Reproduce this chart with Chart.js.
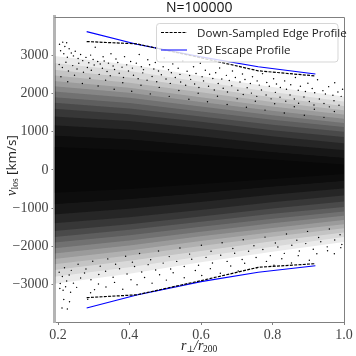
<!DOCTYPE html>
<html><head><meta charset="utf-8">
<style>html,body{margin:0;padding:0;background:#fff}canvas{display:block}</style>
<script src="https://cdn.jsdelivr.net/npm/chart.js@4/dist/chart.umd.min.js"></script>
</head><body><canvas id="c" width="356" height="356"></canvas>
<script>
const titleText = "N=100000";
const xTickValues = [0.2,0.4,0.6,0.8,1.0];
const yTickValues = [-3000,-2000,-1000,0,1000,2000,3000];
const profileR = [0.28,0.42,0.6,0.76,0.92];
const escapeUpper = [3620,3290,2960,2700,2510];
const escapeLower = [-3615,-3275,-2925,-2680,-2510];
const edgeUpper = [3360,3300,2934,2594,2460];
const edgeLower = [-3345,-3270,-2900,-2550,-2455];
const edgeLabel = "Down-Sampled Edge Profile";
const escapeLabel = "3D Escape Profile";
// estimated density contours of the point cloud, outermost first
const bandR = [0.19,0.4,0.6,0.8,1.0];
const contoursUpper = [
 [2980,2760,2460,2170,1920],[2800,2590,2310,2040,1790],[2620,2420,2160,1900,1670],[2470,2280,2030,1780,1560],
 [2330,2150,1900,1660,1450],[2190,2020,1780,1550,1340],[2050,1890,1660,1430,1230],[1900,1750,1530,1310,1120],
 [1760,1610,1400,1180,1000],[1600,1460,1260,1040,860],[1400,1280,1090,880,700],[1170,1060,880,680,520],
 [900,800,640,470,320],[600,520,400,270,140]];
const contoursLower = [
 [-2980,-2720,-2420,-2140,-1890],[-2800,-2550,-2270,-2010,-1760],[-2620,-2380,-2120,-1870,-1640],[-2470,-2240,-1990,-1750,-1530],
 [-2330,-2110,-1860,-1630,-1420],[-2190,-1980,-1740,-1520,-1310],[-2050,-1850,-1620,-1400,-1200],[-1900,-1710,-1490,-1280,-1090],
 [-1760,-1570,-1360,-1150,-970],[-1600,-1420,-1220,-1010,-830],[-1400,-1240,-1050,-850,-670],[-1170,-1020,-840,-650,-490],
 [-900,-770,-610,-440,-290],[-600,-500,-370,-240,-110]];
const contourAlpha = [.08,.08,.1,.1,.12,.14,.16,.18,.22,.26,.32,.4,.5,.6];
// individually read points [r, v]
const pointsUpper = [[.204,3290],[.207,3120],[.213,3345],[.216,3040],[.219,3230],[.224,3330],[.226,2950],[.231,3170],[.237,3060],[.243,2985],[.248,3105],[.256,2915],[.263,3020],[.269,2860],[.278,2945],[.286,2805],[.291,3005],[.298,2890],[.304,3210],[.311,2840],[.318,2770],[.326,2960],[.329,2850],[.341,2795],[.348,3040],[.354,2720],[.362,2905],[.367,2810],[.379,2690],[.386,2965],[.392,2750],[.403,2840],[.408,2665],[.419,2795],[.427,3020],[.433,2700],[.439,2625],[.451,2885],[.456,2755],[.468,2640],[.472,2810],[.481,2590],[.494,2700],[.497,2930],[.509,2620],[.517,2545],[.521,2775],[.536,2660],[.541,2500],[.549,2850],[.561,2585],[.568,2470],[.579,2700],[.586,2525],[.598,2790],[.603,2440],[.612,2610],[.624,2505],[.633,2395],[.641,2545],[.652,2670],[.658,2380],[.671,2475],[.679,2340],[.688,2590],[.696,2420],[.709,2300],[.716,2510],[.723,2365],[.738,2260],[.744,2440],[.757,2330],[.763,2220],[.772,2520],[.784,2290],[.791,2190],[.803,2385],[.811,2250],[.822,2155],[.834,2330],[.839,2110],[.851,2230],[.864,2420],[.872,2085],[.878,2190],[.892,2050],[.899,2270],[.911,2130],[.918,2020],[.926,2360],[.941,2075],[.948,1985],[.957,2180],[.969,1955],[.974,2280],[.983,2040],[.992,1925],[.996,2110],[.203,2760],[.212,2680],[.222,2820],[.229,2590],[.241,2730],[.253,2640],[.258,2790],[.271,2555],[.282,2680],[.293,2610],[.301,2745],[.315,2500],[.324,2660],[.337,2575],[.346,2465],[.358,2630],[.371,2530],[.383,2420],[.397,2590],[.411,2480],[.424,2385],[.437,2540],[.449,2350],[.463,2445],[.476,2310],[.489,2490],[.502,2380],[.514,2265],[.528,2420],[.543,2300],[.557,2215],[.571,2370],[.582,2250],[.594,2155],[.607,2330],[.621,2190],[.637,2090],[.648,2260],[.662,2135],[.674,2040],[.686,2205],[.703,2085],[.718,1975],[.729,2150],[.741,2010],[.756,1925],[.769,2090],[.782,1960],[.796,1860],[.808,2030],[.821,1905],[.837,1800],[.849,1960],[.861,1855],[.873,1745],[.888,1910],[.903,1790],[.916,1700],[.931,1855],[.944,1740],[.959,1650],[.972,1810],[.986,1690],[.208,2440],[.227,2310],[.246,2480],[.268,2260],[.289,2400],[.312,2195],[.333,2350],[.357,2110],[.381,2280],[.406,2060],[.432,2215],[.458,1990],[.483,2160],[.511,1925],[.538,2080],[.566,1850],[.592,2005],[.618,1785],[.646,1930],[.673,1710],[.701,1865],[.727,1640],[.752,1795],[.779,1565],[.806,1730],[.833,1490],[.861,1655],[.889,1430],[.917,1590],[.944,1375],[.973,1530]];
const pointsLower = [[.211,-3615],[.216,-3395],[.226,-3640],[.232,-3450],[.205,-3105],[.214,-3150],[.221,-3060],[.235,-3205],[.252,-3075],[.283,-3385],[.291,-3215],[.302,-3135],[.313,-2985],[.334,-3065],[.358,-2945],[.381,-3125],[.404,-2875],[.421,-3005],[.442,-2815],[.463,-2965],[.484,-2745],[.503,-2885],[.522,-2695],[.553,-2825],[.584,-2635],[.602,-2765],[.626,-2585],[.654,-2705],[.683,-2515],[.704,-2645],[.722,-2445],[.756,-2565],[.783,-2395],[.804,-2495],[.826,-2325],[.853,-2435],[.872,-2245],[.903,-2365],[.924,-2195],[.954,-2115],[.973,-2195],[.991,-2035],[.206,-2975],[.212,-2790],[.224,-2910],[.231,-2750],[.243,-2965],[.263,-2830],[.274,-2700],[.292,-2875],[.314,-2740],[.333,-2655],[.354,-2810],[.372,-2590],[.393,-2725],[.414,-2530],[.434,-2675],[.452,-2480],[.473,-2620],[.494,-2440],[.515,-2595],[.532,-2395],[.553,-2530],[.574,-2340],[.593,-2495],[.614,-2290],[.632,-2435],[.655,-2235],[.673,-2395],[.694,-2180],[.715,-2345],[.733,-2130],[.754,-2295],[.773,-2085],[.794,-2245],[.815,-2020],[.833,-2185],[.854,-1975],[.875,-2125],[.893,-1930],[.914,-2075],[.935,-1880],[.953,-2015],[.974,-1835],[.994,-1955],[.203,-2680],[.218,-2560],[.237,-2630],[.256,-2470],[.278,-2595],[.297,-2390],[.318,-2520],[.339,-2330],[.361,-2470],[.389,-2260],[.408,-2415],[.428,-2190],[.459,-2350],[.481,-2125],[.511,-2270],[.541,-2045],[.568,-2205],[.601,-1975],[.628,-2130],[.659,-1905],[.689,-2060],[.718,-1830],[.748,-1985],[.779,-1760],[.808,-1915],[.839,-1680],[.868,-1840],[.898,-1610],[.929,-1770],[.959,-1545],[.989,-1700]];

const W = 356;
const area = {left:54.5, right:344, top:17, bottom:322};

const decor = {
  id:'decor',
  afterDraw(chart){
    const c = chart.ctx;
    c.save();
    c.strokeStyle = '#808080'; c.lineWidth = 1;
    c.beginPath(); c.moveTo(area.left,area.top+.5); c.lineTo(area.right+.5,area.top+.5); c.lineTo(area.right+.5,area.bottom); c.stroke();
    c.fillStyle='rgba(255,255,255,0.82)'; c.strokeStyle='rgba(204,204,204,0.8)';
    c.beginPath(); c.roundRect(156.5,23.5,181.5,38.5,3); c.fill(); c.stroke();
    c.lineWidth=1; c.setLineDash([3,1.3]); c.strokeStyle='#000';
    c.beginPath(); c.moveTo(161,32.5); c.lineTo(187,32.5); c.stroke();
    c.setLineDash([]); c.strokeStyle='#0000ff';
    c.beginPath(); c.moveTo(161,50); c.lineTo(187,50); c.stroke();
    c.fillStyle='#222'; c.font='11.6px "Open Sans"'; c.textBaseline='middle'; c.textAlign='left';
    c.fillText(edgeLabel,197,33.5); c.fillText(escapeLabel,197,50.5);
    c.fillStyle='#222'; c.textBaseline='alphabetic';
    c.font='italic 14px "Liberation Serif"'; c.fillText('r',181,350);
    c.font='italic 9px "DejaVu Serif"'; c.fillText('⊥',186.5,352);
    c.font='italic 14px "Liberation Serif"'; c.fillText('/r',194,350);
    c.font='9.5px "Liberation Serif"'; c.fillText('200',203,352);
    c.translate(16,196); c.rotate(-Math.PI/2);
    c.font='italic 14px "Liberation Serif"'; c.fillText('v',0,0);
    c.font='9.5px "Liberation Serif"'; c.fillText('los',6.5,2);
    c.font='13.5px "Open Sans"'; c.fillText('[km/s]',21,0);
    c.restore();
  }
};

const band = (v,fill,color) => ({type:'scatter',showLine:true,data:bandR.map((x,i)=>({x,y:v[i]})),borderWidth:0,borderColor:'transparent',pointRadius:0,fill,backgroundColor:color,order:10});
const bands = contoursUpper.flatMap((up,i)=>[band(up,'+1','rgba(0,0,0,'+contourAlpha[i]+')'),band(contoursLower[i],false,'transparent')]);
const line = (label,ys,color,dash) => ({type:'scatter',label,showLine:true,data:profileR.map((x,i)=>({x,y:ys[i]})),borderColor:color,borderWidth:1.2,borderDash:dash,pointRadius:0,order:1});
const dots = (pts) => ({type:'scatter',data:pts.map(p=>({x:p[0],y:p[1]})),pointRadius:0.72,pointBorderWidth:0,backgroundColor:'#000',order:5});

new Chart(document.getElementById('c'),{
  type:'scatter',
  data:{datasets:[
    ...bands,
    dots(pointsUpper),dots(pointsLower),
    line(edgeLabel,edgeUpper,'#000',[3,1.3]),line(edgeLabel,edgeLower,'#000',[3,1.3]),
    line(escapeLabel,escapeUpper,'#0000ff',[]),line(escapeLabel,escapeLower,'#0000ff',[])
  ]},
  options:{
    responsive:false,animation:false,devicePixelRatio:1,
    layout:{padding:{left:0,right:W-area.right,top:0,bottom:0}},
    plugins:{legend:{display:false},tooltip:{enabled:false},
      title:{display:true,text:titleText,fullSize:false,color:'#111',font:{family:'"Open Sans"',size:14,weight:'normal'},padding:{top:0,bottom:0}}},
    scales:{
      x:{type:'linear',min:0.19,max:1.0,
        afterFit(s){s.height=356-area.bottom},
        afterBuildTicks(s){s.ticks=xTickValues.map(value=>({value}))},
        border:{color:'#808080',width:1},
        grid:{display:true,drawOnChartArea:false,drawTicks:true,tickLength:3,tickColor:'#808080'},
        ticks:{autoSkip:false,maxRotation:0,color:'#444',padding:2,font:{family:'"Liberation Serif"',size:14},callback:v=>v.toFixed(1)}},
      y:{type:'linear',min:-3982,max:4008,
        afterFit(s){s.width=area.left},
        afterBuildTicks(s){s.ticks=yTickValues.map(value=>({value}))},
        border:{color:'#b4b4b4',width:3},
        grid:{display:true,drawOnChartArea:false,drawTicks:true,tickLength:3,tickColor:'#808080'},
        ticks:{autoSkip:false,color:'#444',padding:3,font:{family:'"Liberation Serif"',size:14},callback:v=>v<0?'\u2212'+Math.abs(v):String(v)}}
    }
  },
  plugins:[decor]
});
</script></body></html>
